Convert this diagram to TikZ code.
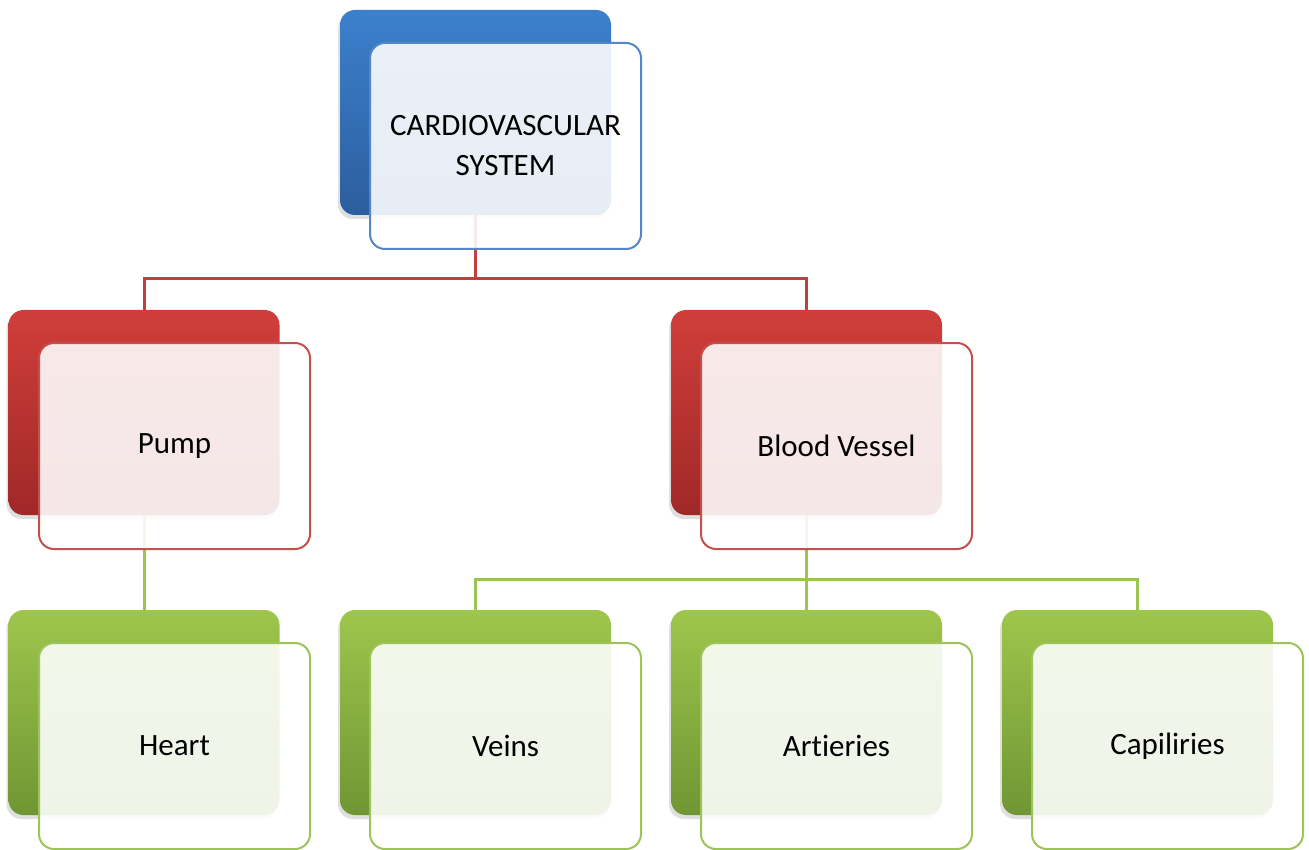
\documentclass[tikz,border=0pt]{standalone}
\usepackage{fontspec}
\setmainfont[Ligatures=NoCommon]{Carlito}
\usetikzlibrary{shadows}
\definecolor{bluetop}{RGB}{60,128,204}
\definecolor{bluebot}{RGB}{44,94,158}
\definecolor{blueedge}{RGB}{84,134,204}
\definecolor{redtop}{RGB}{208,62,58}
\definecolor{redbot}{RGB}{160,40,40}
\definecolor{rededge}{RGB}{196,80,78}
\definecolor{greentop}{RGB}{158,198,76}
\definecolor{greenbot}{RGB}{112,150,52}
\definecolor{greenedge}{RGB}{156,196,88}
\definecolor{redwire}{RGB}{192,64,62}
\definecolor{greenwire}{RGB}{156,196,84}
\tikzset{
  card/.style={rectangle, rounded corners=15pt, minimum width=271pt,
    minimum height=205pt, inner sep=0pt, outer sep=0pt,
    drop shadow={shadow xshift=-2pt, shadow yshift=-4pt, opacity=0.25}},
  backblue/.style={card, top color=bluetop, bottom color=bluebot},
  backred/.style={card, top color=redtop, bottom color=redbot},
  backgreen/.style={card, top color=greentop, bottom color=greenbot},
  face/.style={rectangle, rounded corners=15pt, minimum width=271pt,
    minimum height=206pt, inner sep=0pt, line width=2pt,
    fill=white, fill opacity=0.89, text opacity=1, align=center,
    font=\fontsize{31}{40}\selectfont},
  faceblue/.style={face, draw=blueedge},
  facered/.style={face, draw=rededge},
  facegreen/.style={face, draw=greenedge},
  redlink/.style={draw=redwire, line width=3pt},
  greenlink/.style={draw=greenwire, line width=3pt}
}
\begin{document}
\begin{tikzpicture}[x=1pt,y=-1pt]
\useasboundingbox (0,0) rectangle (1309,850);
\fill[white] (0,0) rectangle (1309,850);

% back cards
\node[backblue]  (cvB)   at (475.5,112.5) {};
\node[backred]   (pumpB) at (144,412.5) {};
\node[backred]   (bvB)   at (806.5,412.5) {};
\node[backgreen] (hrtB)  at (144,712.5) {};
\node[backgreen] (vnB)   at (475.5,712.5) {};
\node[backgreen] (arB)   at (806.5,712.5) {};
\node[backgreen] (cpB)   at (1137.5,712.5) {};

% connectors
\draw[redlink] (cvB.south) -- ++(0,64) -| (pumpB.north);
\draw[redlink] (cvB.south) -- ++(0,64) -| (bvB.north);
\draw[greenlink] (pumpB.south) -- (hrtB.north);
\draw[greenlink] (bvB.south) -- ++(0,64) -| (vnB.north);
\draw[greenlink] (bvB.south) -- (arB.north);
\draw[greenlink] (bvB.south) -- ++(0,64) -| (cpB.north);

% front cards with labels
\node[faceblue]  (cv)   at (505.5,146) {CARDIOVASCULAR\\SYSTEM};
\node[facered]   (pump) at (174.5,446) {Pump};
\node[facered]   (bv)   at (836.5,446) {Blood Vessel};
\node[facegreen] (hrt)  at (174.5,746) {Heart};
\node[facegreen] (vn)   at (505.5,746) {Veins};
\node[facegreen] (ar)   at (836.5,746) {Artieries};
\node[facegreen] (cp)   at (1167.5,746) {Capiliries};
\end{tikzpicture}
\end{document}
